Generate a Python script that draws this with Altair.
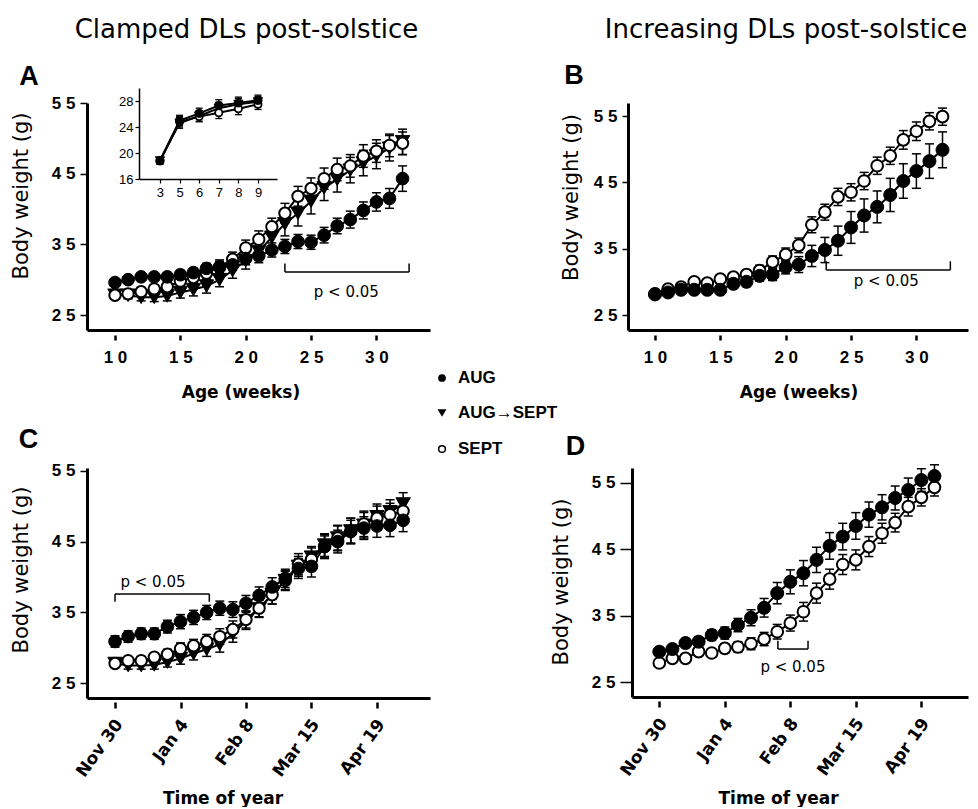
import altair as alt
import pandas as pd

SANS = "Liberation Sans"
DJV = "DejaVu Sans"

# ---------------- data ----------------
age_weeks = list(range(10, 33))
a_aug = [29.6, 30.0, 30.4, 30.4, 30.4, 30.7, 31.0, 31.6, 31.8, 32.1, 33.0, 33.4, 34.2, 34.7, 35.4, 35.3, 36.3, 37.6, 38.5, 39.8, 41.0, 41.5, 44.3]
a_aug_err = [0.5, 0.5, 0.5, 0.5, 0.6, 0.6, 0.6, 0.7, 0.8, 0.8, 0.9, 1.0, 1.0, 1.0, 1.0, 1.0, 1.1, 1.1, 1.2, 1.2, 1.3, 1.4, 1.8]
a_tri = [27.8, 27.8, 27.5, 27.5, 27.7, 28.2, 28.6, 29.1, 30.0, 31.3, 32.7, 34.0, 36.0, 37.9, 39.4, 41.1, 43.0, 44.2, 45.5, 46.5, 47.5, 48.6, 49.5]
a_tri_err = [0.5, 0.5, 0.5, 0.6, 0.7, 0.8, 0.9, 1.0, 1.0, 1.1, 1.2, 1.3, 1.5, 1.7, 1.8, 1.8, 1.8, 1.8, 1.8, 1.8, 1.8, 1.8, 1.8]
a_sept = [27.8, 28.0, 28.3, 28.7, 29.0, 29.8, 30.3, 30.9, 31.8, 32.9, 34.5, 35.7, 37.5, 39.4, 41.8, 42.9, 44.3, 45.6, 46.1, 47.5, 48.2, 49.0, 49.3]
a_sept_err = [0.5, 0.5, 0.6, 0.6, 0.7, 0.8, 0.8, 0.9, 1.0, 1.0, 1.1, 1.2, 1.2, 1.4, 1.4, 1.5, 1.5, 1.6, 1.6, 1.6, 1.6, 1.6, 1.6]

inset_weeks = ["3", "5", "6", "7", "8", "9"]
inset_aug = [18.8, 25.0, 26.1, 27.3, 27.7, 28.1]
inset_tri = [18.8, 24.6, 25.7, 26.9, 27.5, 27.9]
inset_sept = [18.8, 24.8, 25.6, 26.2, 26.8, 27.5]
inset_err = [0.5, 0.8, 0.8, 0.9, 0.9, 0.8]

b_aug = [28.1, 28.4, 28.8, 28.8, 28.8, 28.8, 29.7, 30.0, 30.9, 31.1, 32.2, 32.6, 33.9, 34.8, 36.2, 38.2, 40.0, 41.3, 43.1, 45.2, 46.7, 48.2, 49.9]
b_aug_err = [0.4, 0.4, 0.5, 0.5, 0.5, 0.5, 0.6, 0.7, 0.8, 0.9, 1.0, 1.2, 1.6, 1.9, 2.2, 2.4, 2.5, 2.4, 2.5, 2.6, 2.6, 2.6, 2.7]
b_sept = [28.2, 28.9, 29.2, 30.0, 29.8, 30.4, 30.7, 31.1, 31.7, 33.0, 34.1, 35.5, 38.6, 40.5, 42.8, 43.5, 45.2, 47.5, 49.0, 51.4, 52.7, 54.2, 54.9]
b_sept_err = [0.4, 0.4, 0.5, 0.5, 0.5, 0.6, 0.6, 0.7, 0.8, 0.9, 1.0, 1.1, 1.2, 1.2, 1.3, 1.3, 1.3, 1.3, 1.3, 1.4, 1.4, 1.3, 1.3]

date_ticks = [0, 5, 10, 15, 20]
date_labels = ["Nov 30", "Jan 4", "Feb 8", "Mar 15", "Apr 19"]

c_weeks = list(range(0, 23))
c_aug = [30.9, 31.6, 32.0, 32.0, 33.0, 33.7, 34.3, 35.0, 35.6, 35.4, 36.3, 37.4, 38.6, 39.8, 41.2, 41.5, 44.3, 45.0, 46.4, 46.9, 47.2, 47.3, 48.0]
c_aug_err = [0.8, 0.8, 0.8, 0.8, 0.9, 1.0, 1.0, 1.0, 1.0, 1.1, 1.1, 1.2, 1.3, 1.3, 1.4, 1.5, 1.5, 1.6, 1.6, 1.6, 1.6, 1.6, 1.6]
c_tri = [27.8, 27.5, 27.5, 27.6, 28.0, 28.5, 29.2, 29.8, 30.5, 32.0, 33.8, 35.5, 37.5, 39.5, 41.5, 42.8, 44.5, 45.5, 46.5, 47.3, 48.5, 49.2, 50.3]
c_tri_err = [0.5, 0.5, 0.5, 0.6, 0.7, 0.8, 0.9, 1.0, 1.1, 1.2, 1.2, 1.2, 1.3, 1.3, 1.4, 1.5, 1.6, 1.7, 1.8, 1.8, 1.8, 1.7, 1.6]
c_sept = [27.8, 28.2, 28.2, 28.7, 29.1, 29.9, 30.3, 30.9, 31.6, 32.6, 34.0, 35.6, 37.5, 39.5, 41.8, 42.5, 44.3, 45.5, 46.5, 47.5, 48.3, 48.8, 49.3]
c_sept_err = [0.5, 0.5, 0.6, 0.6, 0.7, 0.8, 0.9, 1.0, 1.1, 1.2, 1.2, 1.2, 1.3, 1.4, 1.5, 1.6, 1.7, 1.8, 1.8, 1.8, 1.7, 1.6, 1.6]

d_weeks = list(range(0, 22))
d_aug = [29.6, 30.0, 30.9, 31.1, 32.1, 32.4, 33.6, 34.7, 36.2, 38.4, 40.1, 41.4, 43.4, 45.5, 46.9, 48.5, 50.2, 51.3, 52.7, 53.9, 55.4, 56.0]
d_aug_err = [0.5, 0.6, 0.6, 0.7, 0.8, 0.9, 1.0, 1.2, 1.4, 1.6, 1.8, 1.9, 1.9, 2.0, 2.0, 2.0, 1.9, 1.9, 1.8, 1.8, 1.7, 1.7]
d_sept = [27.9, 28.6, 28.6, 29.6, 29.4, 30.1, 30.3, 30.8, 31.5, 32.6, 33.9, 35.6, 38.4, 40.5, 42.7, 43.4, 45.4, 47.4, 49.0, 51.4, 52.8, 54.3]
d_sept_err = [0.4, 0.4, 0.5, 0.5, 0.6, 0.7, 0.8, 0.9, 1.0, 1.1, 1.2, 1.4, 1.5, 1.5, 1.5, 1.5, 1.5, 1.5, 1.4, 1.4, 1.3, 1.3]

y_tick_vals = [25, 35, 45, 55]
y_tick_labels = ["2 5", "3 5", "4 5", "5 5"]
age_tick_vals = [10, 15, 20, 25, 30]
age_tick_labels = ["1 0", "1 5", "2 0", "2 5", "3 0"]
inset_y_vals = [16, 20, 24, 28]
inset_y_labels = ["16", "20", "24", "28"]

p_text = "p < 0.05"
# [start, end, line level, tip level, text x, text y]
a_bracket = [23.0, 32.5, 31.1, 32.3, 27.7, 28.2]
b_bracket = [23.1, 32.6, 31.8, 33.1, 27.7, 30.1]
c_bracket = [0.0, 7.2, 37.6, 36.5, 2.9, 39.3]
d_bracket = [9.05, 11.35, 30.0, 31.25, 10.2, 27.3]

legend_names = ["AUG", "AUG\u2192SEPT", "SEPT"]


# ---------------- helpers ----------------
def label_expr(values, labels):
    expr = "''"
    for v, l in reversed(list(zip(values, labels))):
        expr = f"datum.value == {v} ? '{l}' : ({expr})"
    return expr


def make_df(x, vals, errs, name):
    return pd.DataFrame({
        "x": x, "y": vals,
        "lo": [v - e for v, e in zip(vals, errs)],
        "hi": [v + e for v, e in zip(vals, errs)],
        "s": name,
    })


def point_layer(df, xs, ys, kind, size, sw):
    enc = dict(x=alt.X("x:Q", scale=xs), y=alt.Y("y:Q", scale=ys))
    if kind == "AUG":
        m = alt.Chart(df).mark_point(shape="circle", filled=True, fill="black", stroke="black",
                                     strokeWidth=1, size=size, opacity=1)
    elif kind == "TRI":
        m = alt.Chart(df).mark_point(shape="triangle-down", filled=True, fill="black", stroke="black",
                                     strokeWidth=1, size=size * 1.3, opacity=1)
    else:
        m = alt.Chart(df).mark_point(shape="circle", filled=True, fill="white", stroke="black",
                                     strokeWidth=sw, size=size * 0.8, opacity=1)
    return m.encode(**enc)


def series_layers(series, xs, ys, xaxis, yaxis, size, lw=2, ew=1.5, capw=9, sw=2):
    alldf = pd.concat([df for df, _ in series])
    lines = alt.Chart(alldf).mark_line(color="black", strokeWidth=lw).encode(
        x=alt.X("x:Q", scale=xs, axis=xaxis), y=alt.Y("y:Q", scale=ys, axis=yaxis), detail="s:N")
    xn = alt.X("x:Q", scale=xs)
    bars = alt.Chart(alldf).mark_rule(color="black", strokeWidth=ew).encode(
        x=xn, y=alt.Y("lo:Q", scale=ys), y2="hi:Q")
    caps = [alt.Chart(alldf).mark_tick(color="black", orient="horizontal", size=capw, thickness=ew,
                                       opacity=1).encode(x=xn, y=alt.Y(f"{c}:Q", scale=ys))
            for c in ("lo", "hi")]
    pts = [point_layer(df, xs, ys, kind, size, sw) for df, kind in series]
    return [lines, bars] + caps + pts


def bracket_layers(br, xs, ys):
    x1, x2, yl, yt, tx, ty = br
    h = alt.Chart(pd.DataFrame({"x": [x1], "x2": [x2], "y": [yl]})).mark_rule(
        color="black", strokeWidth=1.5).encode(
        x=alt.X("x:Q", scale=xs), x2="x2:Q", y=alt.Y("y:Q", scale=ys))
    v = alt.Chart(pd.DataFrame({"x": [x1, x2], "y": [yl, yl], "y2": [yt, yt]})).mark_rule(
        color="black", strokeWidth=1.5).encode(
        x=alt.X("x:Q", scale=xs), y=alt.Y("y:Q", scale=ys), y2="y2:Q")
    t = alt.Chart(pd.DataFrame({"x": [tx], "y": [ty], "t": [p_text]})).mark_text(
        font=DJV, fontSize=15, color="black").encode(
        x=alt.X("x:Q", scale=xs), y=alt.Y("y:Q", scale=ys), text="t:N")
    return [h, v, t]


def txt(text, x, y, size, font=SANS, weight="normal", angle=0, align="center"):
    return alt.Chart(pd.DataFrame({"t": [text]})).mark_text(
        font=font, fontSize=size, fontWeight=weight, angle=angle, align=align,
        baseline="middle", color="black").encode(x=alt.value(x), y=alt.value(y), text="t:N")


def y_axis(tick=6, pad=4, offset=0):
    return alt.Axis(values=y_tick_vals, labelExpr=label_expr(y_tick_vals, y_tick_labels),
                    domain=True, domainColor="black", domainWidth=3, offset=offset,
                    ticks=True, tickColor="black", tickWidth=1.5, tickSize=tick,
                    labelFont=SANS, labelFontWeight="bold", labelFontSize=17, labelColor="black",
                    labelPadding=pad, grid=False, title=None)


def age_axis():
    return alt.Axis(values=age_tick_vals, labelExpr=label_expr(age_tick_vals, age_tick_labels),
                    domain=True, domainColor="black", domainWidth=3,
                    ticks=True, tickColor="black", tickWidth=2.5, tickSize=10, tickDash=[0, 5, 5],
                    labelFont=SANS, labelFontWeight="bold", labelFontSize=17, labelColor="black",
                    labelPadding=9, grid=False, title=None, labelFlush=False)


def date_axis():
    return alt.Axis(values=date_ticks, labelExpr=label_expr(date_ticks, date_labels),
                    domain=True, domainColor="black", domainWidth=3,
                    ticks=True, tickColor="black", tickWidth=2.5, tickSize=10, tickDash=[0, 4, 6],
                    labelFont=DJV, labelFontWeight="bold", labelFontSize=17, labelColor="black",
                    labelAngle=306, labelAlign="right", labelBaseline="middle",
                    labelPadding=13, labelOffset=4, grid=False, title=None, labelFlush=False)


def sc(dom, rng=None):
    if rng is None:
        return alt.Scale(domain=dom, nice=False, zero=False)
    return alt.Scale(domain=dom, range=rng, nice=False, zero=False)


# ---------------- panel A ----------------
WA, HA = 343, 227
xsA, ysA = sc([7.858, 34.10]), sc([22.88, 55.0])
A_series = [(make_df(age_weeks, a_tri, a_tri_err, "TRI"), "TRI"),
            (make_df(age_weeks, a_sept, a_sept_err, "SEPT"), "SEPT"),
            (make_df(age_weeks, a_aug, a_aug_err, "AUG"), "AUG")]
A_main = alt.layer(*series_layers(A_series, xsA, ysA, age_axis(), y_axis(7, 5), 160),
                   *bracket_layers(a_bracket, xsA, ysA))

idx = list(range(len(inset_weeks)))
xsI = sc([-1.07, 5.97], [52, 190])
ysI = sc([16, 30], [76, -15])
inset_x_axis = alt.Axis(orient="bottom", offset=-151, values=idx,
                        labelExpr=label_expr(idx, inset_weeks),
                        domainColor="black", domainWidth=1.5, tickColor="black", tickWidth=1.2,
                        tickSize=4, labelFont=SANS, labelFontSize=13, labelColor="black",
                        labelPadding=3, grid=False, title=None)
inset_y_axis = alt.Axis(orient="left", offset=-52, values=inset_y_vals,
                        labelExpr=label_expr(inset_y_vals, inset_y_labels),
                        domainColor="black", domainWidth=1.5, tickColor="black", tickWidth=1.2,
                        tickSize=4, labelFont=SANS, labelFontSize=13, labelColor="black",
                        labelPadding=2, grid=False, title=None)
I_series = [(make_df(idx, inset_tri, inset_err, "TRI"), "TRI"),
            (make_df(idx, inset_sept, inset_err, "SEPT"), "SEPT"),
            (make_df(idx, inset_aug, inset_err, "AUG"), "AUG")]
A_inset = alt.layer(*series_layers(I_series, xsI, ysI, inset_x_axis, inset_y_axis, 65,
                                   lw=2, ew=1.3, capw=7, sw=1.8))

leg_x, leg_y = 355, [275, 310, 346]
legend = [
    alt.Chart(pd.DataFrame({"t": [0]})).mark_point(shape="circle", filled=True, fill="black",
                                                   size=60, opacity=1).encode(x=alt.value(leg_x), y=alt.value(leg_y[0])),
    alt.Chart(pd.DataFrame({"t": [0]})).mark_point(shape="triangle-down", filled=True, fill="black",
                                                   size=80, opacity=1).encode(x=alt.value(leg_x), y=alt.value(leg_y[1])),
    alt.Chart(pd.DataFrame({"t": [0]})).mark_point(shape="circle", filled=True, fill="white", stroke="black",
                                                   strokeWidth=1.5, size=45, opacity=1).encode(x=alt.value(leg_x), y=alt.value(leg_y[2])),
]
legend += [txt(n, leg_x + 16, yy, 17, SANS, "bold", align="left") for n, yy in zip(legend_names, leg_y)]

A = alt.layer(
    A_main, A_inset,
    txt("Clamped DLs post-solstice", 159.5, -73, 26, DJV),
    txt("A", -58, -26, 27, SANS, "bold"),
    txt("Body weight (g)", -65, 93, 21, DJV, angle=270),
    txt("Age (weeks)", 154, 290, 17, DJV, "bold"),
    *legend,
).resolve_scale(x="independent", y="independent").properties(width=WA, height=HA)

# ---------------- panel B ----------------
WB, HB = 340, 227
xsB, ysB = sc([7.934, 33.95]), sc([22.74, 56.96])
B_series = [(make_df(age_weeks, b_sept, b_sept_err, "SEPT"), "SEPT"),
            (make_df(age_weeks, b_aug, b_aug_err, "AUG"), "AUG")]
B = alt.layer(
    *series_layers(B_series, xsB, ysB, age_axis(), y_axis(6, 5), 170),
    *bracket_layers(b_bracket, xsB, ysB),
    txt("Increasing DLs post-solstice", 158, -73, 26, DJV),
    txt("B", -54, -27, 27, SANS, "bold"),
    txt("Body weight (g)", -56, 94.5, 21, DJV, angle=270),
    txt("Age (weeks)", 171, 290, 17, DJV, "bold"),
).properties(width=WB, height=HB)

# ---------------- panel C ----------------
WC, HC = 343, 230
xsC, ysC = sc([-2.14, 24.05]), sc([22.93, 55.38])
C_series = [(make_df(c_weeks, c_tri, c_tri_err, "TRI"), "TRI"),
            (make_df(c_weeks, c_sept, c_sept_err, "SEPT"), "SEPT"),
            (make_df(c_weeks, c_aug, c_aug_err, "AUG"), "AUG")]
C = alt.layer(
    *series_layers(C_series, xsC, ysC, date_axis(), y_axis(7, 5), 160),
    *bracket_layers(c_bracket, xsC, ysC),
    txt("C", -58.5, -28, 27, SANS, "bold"),
    txt("Body weight (g)", -65, 102, 21, DJV, angle=270),
    txt("Time of year", 136, 331, 17, DJV, "bold"),
).properties(width=WC, height=HC)

# ---------------- panel D ----------------
WD, HD = 340, 229
xsD, ysD = sc([-2.084, 23.56], [4, 340]), sc([22.79, 57.21])
D_series = [(make_df(d_weeks, d_sept, d_sept_err, "SEPT"), "SEPT"),
            (make_df(d_weeks, d_aug, d_aug_err, "AUG"), "AUG")]
D = alt.layer(
    *series_layers(D_series, xsD, ysD, date_axis(), y_axis(12, 5, offset=-4), 170),
    *bracket_layers(d_bracket, xsD, ysD),
    txt("D", -52.5, -21, 27, SANS, "bold"),
    txt("Body weight (g)", -66, 114, 21, DJV, angle=270),
    txt("Time of year", 150.5, 331, 17, DJV, "bold"),
).properties(width=WD, height=HD)

chart = alt.concat(A, B, C, D, columns=2, bounds="flush", align="each",
                   spacing={"row": 138, "column": 198}).properties(
    padding={"left": 3, "top": 9, "right": 2, "bottom": 0}
).configure_view(strokeWidth=0).configure_axis(grid=False)

chart.save("out.html", embed_options={"renderer": "svg", "actions": False})
